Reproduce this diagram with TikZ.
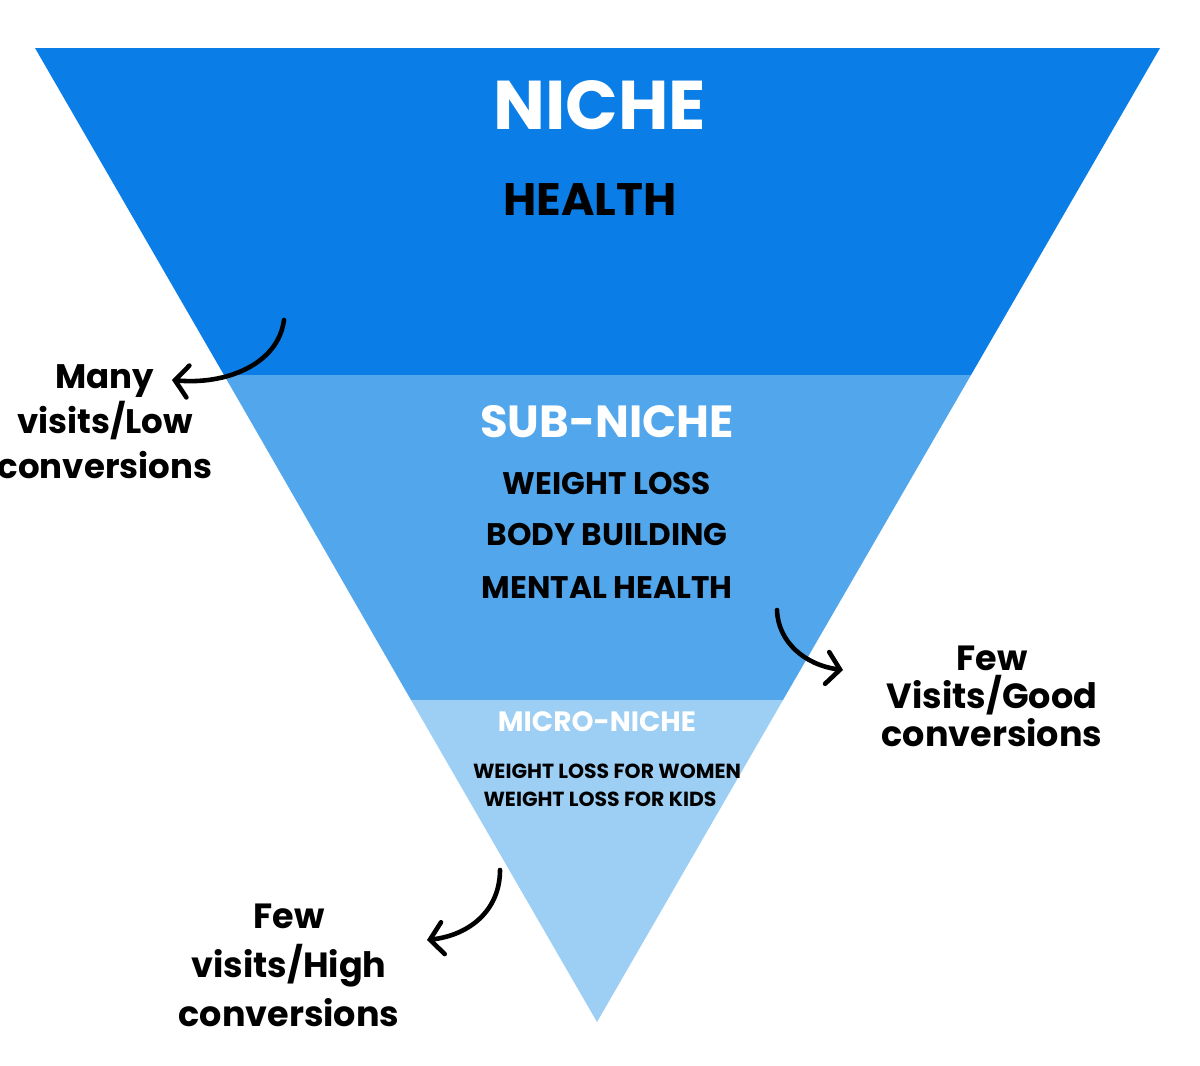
\documentclass[tikz,border=0pt]{standalone}
\usepackage{fontspec}
\setmainfont{Poppins}
\usetikzlibrary{arrows.meta}
\definecolor{bandA}{RGB}{10,126,230}
\definecolor{bandB}{RGB}{82,166,236}
\definecolor{bandC}{RGB}{157,206,244}
\tikzset{
  lbl/.style={font=\bfseries, text=black, inner sep=0pt},
  sidelbl/.style={align=center, inner sep=0pt, text=black},
  curvearrow/.style={line width=4.6pt, draw=black, line cap=round, -{Straight Barb[length=13pt,width=32pt,line cap=round]}}
}
\begin{document}
\begin{tikzpicture}[x=1pt,y=-1pt]
\useasboundingbox (0,0) rectangle (1200,1066);
\fill[white] (0,0) rectangle (1200,1066);
% bands
\fill[bandA] (35,48) -- (1160,48) -- (971,375) -- (224,375) -- cycle;
\fill[bandB] (224,375) -- (971,375) -- (783,700) -- (411,700) -- cycle;
\fill[bandC] (411,700) -- (783,700) -- (597,1022) -- cycle;
% texts
\node[lbl, text=white, font=\fontsize{69}{80}\selectfont\bfseries] (niche) at (600,105) {NICHE};
\node[lbl, font=\fontsize{45.5}{60}\selectfont\bfseries] (health) at (590,200) {HEALTH};
\node[lbl, text=white, font=\fontsize{45}{54}\selectfont\bfseries] (sub) at (607,422) {SUB-NICHE};
\node[lbl, font=\fontsize{31.2}{38}\selectfont\bfseries] (wl) at (607,483) {WEIGHT LOSS};
\node[lbl, font=\fontsize{31.2}{38}\selectfont\bfseries] (bb) at (607,534) {BODY BUILDING};
\node[lbl, font=\fontsize{31.2}{38}\selectfont\bfseries] (mh) at (607,588) {MENTAL HEALTH};
\node[lbl, text=white, font=\fontsize{28}{34}\selectfont\bfseries] (micro) at (597,722) {MICRO-NICHE};
\node[lbl, font=\fontsize{20.4}{26}\selectfont\bfseries] (wlw) at (607,771) {WEIGHT LOSS FOR WOMEN};
\node[lbl, font=\fontsize{20.4}{26}\selectfont\bfseries] (wlk) at (600,799) {WEIGHT LOSS FOR KIDS};
% side labels
\node[sidelbl, font=\fontsize{34}{45}\selectfont\bfseries] (left) at (105,422) {Many\\visits/Low\\conversions};
\node[sidelbl, font=\fontsize{35}{38}\selectfont\bfseries] (right) at (992,696) {Few\\Visits/Good\\conversions};
\node[sidelbl, font=\fontsize{35}{49}\selectfont\bfseries] (bottom) at (289,965) {Few\\visits/High\\conversions};
% arrows
\coordinate (a1s) at (284,320);
\coordinate (a1e) at (172,380);
\coordinate (a2s) at (777,610);
\coordinate (a2e) at (843,670);
\coordinate (a3s) at (500,870);
\coordinate (a3e) at (427,940);
\draw[curvearrow] (a1s) .. controls (278,365) and (225,385) .. (a1e);
\draw[curvearrow] (a2s) .. controls (778,642) and (805,665) .. (a2e);
\draw[curvearrow] (a3s) .. controls (500,910) and (470,935) .. (a3e);
\end{tikzpicture}
\end{document}
